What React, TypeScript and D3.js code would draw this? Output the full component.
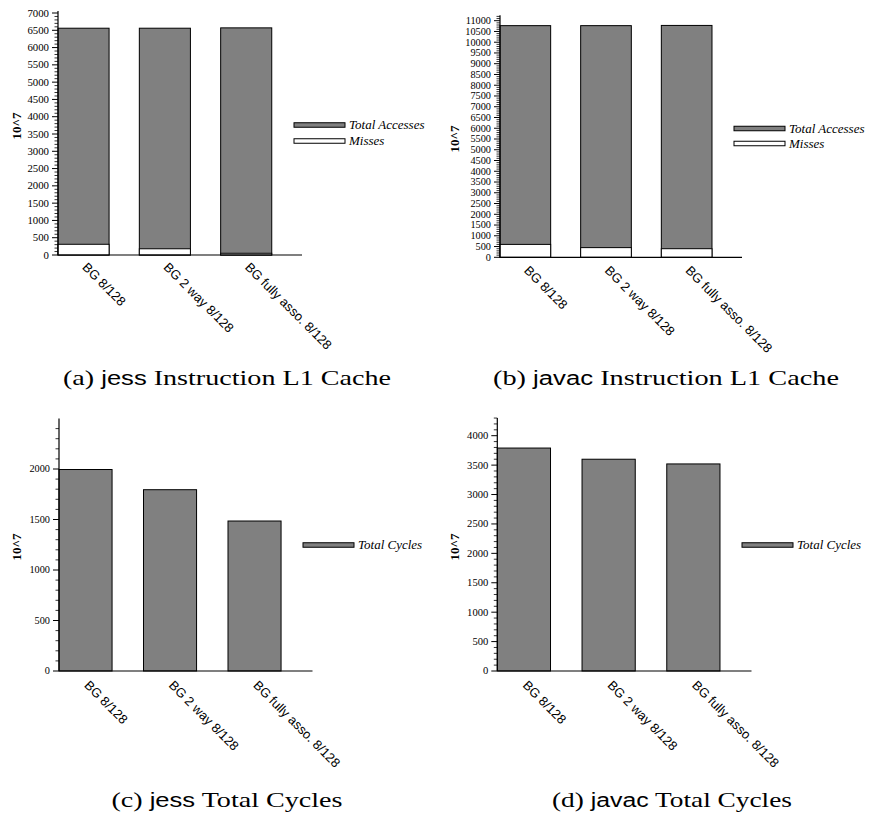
import React from "react";
import * as d3 from "d3";

const categories = ["BG 8/128", "BG 2 way 8/128", "BG fully asso. 8/128"];
const jessL1Total = [6560, 6560, 6570];
const jessL1Misses = [310, 180, 50];
const javacL1Total = [10770, 10770, 10780];
const javacL1Misses = [600, 450, 400];
const jessCycles = [1995, 1795, 1485];
const javacCycles = [3790, 3600, 3520];
const majorStep = 500;
const minorStep = 100;

type Series = { name: string; values: number[]; fill: string };

type PanelCfg = {
  x0: number; x1: number;
  y0: number; yRefPx: number; yRef: number; yMax: number; yLabelMax: number;
  tickFont: number; labOff: number;
  series: Series[];
  legendX: number; legendY: number[];
  ylabX: number; ylabY: number;
  caption: [string, string, string]; capCx: number; capW: number; capY: number;
};

const GRAY = "#808080";

const panels: PanelCfg[] = [
  {
    x0: 58, x1: 302, y0: 255, yRefPx: 13, yRef: 7000, yMax: 7060, yLabelMax: 7000, tickFont: 10.8, labOff: 13,
    series: [
      { name: "Total Accesses", values: jessL1Total, fill: GRAY },
      { name: "Misses", values: jessL1Misses, fill: "#fff" },
    ],
    legendX: 294, legendY: [125, 141], ylabX: 20.5, ylabY: 126,
    caption: ["(a) ", "jess", " Instruction L1 Cache"], capCx: 227, capW: 328, capY: 385,
  },
  {
    x0: 500, x1: 742, y0: 257.3, yRefPx: 20.7, yRef: 11000, yMax: 11250, yLabelMax: 11000, tickFont: 10.3, labOff: 14,
    series: [
      { name: "Total Accesses", values: javacL1Total, fill: GRAY },
      { name: "Misses", values: javacL1Misses, fill: "#fff" },
    ],
    legendX: 734, legendY: [128.5, 143.5], ylabX: 459, ylabY: 139,
    caption: ["(b) ", "javac", " Instruction L1 Cache"], capCx: 666, capW: 346, capY: 385,
  },
  {
    x0: 59, x1: 312.5, y0: 671, yRefPx: 469, yRef: 2000, yMax: 2500, yLabelMax: 2000, tickFont: 10.3, labOff: 15,
    series: [{ name: "Total Cycles", values: jessCycles, fill: GRAY }],
    legendX: 303, legendY: [545], ylabX: 20.5, ylabY: 547,
    caption: ["(c) ", "jess", " Total Cycles"], capCx: 227, capW: 231, capY: 807,
  },
  {
    x0: 497.3, x1: 751.5, y0: 671, yRefPx: 435.7, yRef: 4000, yMax: 4300, yLabelMax: 4000, tickFont: 10.6, labOff: 15,
    series: [{ name: "Total Cycles", values: javacCycles, fill: GRAY }],
    legendX: 742, legendY: [545], ylabX: 459, ylabY: 547,
    caption: ["(d) ", "javac", " Total Cycles"], capCx: 672, capW: 240, capY: 807,
  },
];

const SERIF = "'Liberation Serif', 'Times New Roman', serif";
const SANS = "'Liberation Sans', Arial, sans-serif";

function Panel({ p }: { p: PanelCfg }) {
  const x = d3.scaleBand<string>().domain(categories).range([p.x0, p.x1]).paddingInner(0).paddingOuter(0);
  const y = d3.scaleLinear().domain([0, p.yRef]).range([p.y0, p.yRefPx]);
  const barW = x.bandwidth() * 0.628;
  const majors = d3.range(0, p.yLabelMax + 1, majorStep);
  const minors = d3.range(0, p.yMax + 1, minorStep).filter((v) => v % majorStep !== 0);
  return (
    <g>
      {p.series.map((s, si) => (
        <g key={si}>
          {s.values.map((v, i) => (
            <rect
              key={i}
              x={x(categories[i])!}
              y={y(v)}
              width={barW}
              height={y(0) - y(v)}
              fill={s.fill}
              stroke="#000"
              strokeWidth={1}
            />
          ))}
        </g>
      ))}
      <line x1={p.x0} x2={p.x0} y1={p.y0} y2={y(p.yMax)} stroke="#000" strokeWidth={1.2} />
      {minors.map((v) => (
        <line key={"m" + v} x1={p.x0 - 3.5} x2={p.x0} y1={y(v)} y2={y(v)} stroke="#000" strokeWidth={0.8} />
      ))}
      {majors.map((v) => (
        <g key={"M" + v}>
          <line x1={p.x0 - 6} x2={p.x0} y1={y(v)} y2={y(v)} stroke="#000" strokeWidth={1} />
          <text x={p.x0 - 9} y={y(v)} dy="0.33em" textAnchor="end" fontFamily={SERIF} fontSize={p.tickFont} fill="#000">
            {v}
          </text>
        </g>
      ))}
      <line x1={p.x0} x2={p.x1} y1={p.y0} y2={p.y0} stroke="#000" strokeWidth={1.2} />
      {categories.map((c) => (
        <text
          key={c}
          transform={`translate(${x(c)! + barW / 2 - 2},${p.y0 + p.labOff}) rotate(45)`}
          fontFamily={SANS}
          fontSize={13}
          fill="#000"
        >
          {c}
        </text>
      ))}
      <text
        transform={`translate(${p.ylabX},${p.ylabY}) rotate(-90)`}
        textAnchor="middle"
        fontFamily={SERIF}
        fontWeight="bold"
        fontSize={13}
      >
        10^7
      </text>
      {p.series.map((s, si) => (
        <g key={"l" + si}>
          <rect x={p.legendX} y={p.legendY[si] - 2.25} width={51} height={4.5} fill={s.fill} stroke="#000" strokeWidth={1} />
          <text x={p.legendX + 55} y={p.legendY[si]} dy="0.33em" fontFamily={SERIF} fontStyle="italic" fontSize={13}>
            {s.name}
          </text>
        </g>
      ))}
      <text
        x={p.capCx - p.capW / 2}
        y={p.capY}
        fontFamily={SERIF}
        fontSize={22}
        textLength={p.capW}
        lengthAdjust="spacingAndGlyphs"
      >
        <tspan>{p.caption[0]}</tspan>
        <tspan fontFamily={SANS} fontSize={20}>{p.caption[1]}</tspan>
        <tspan>{p.caption[2]}</tspan>
      </text>
    </g>
  );
}

export default function App() {
  return (
    <svg width={871} height={819} style={{ position: "absolute", left: 0, top: 0, background: "#fff" }}>
      <rect width={871} height={819} fill="#fff" />
      {panels.map((p, i) => (
        <Panel key={i} p={p} />
      ))}
    </svg>
  );
}
